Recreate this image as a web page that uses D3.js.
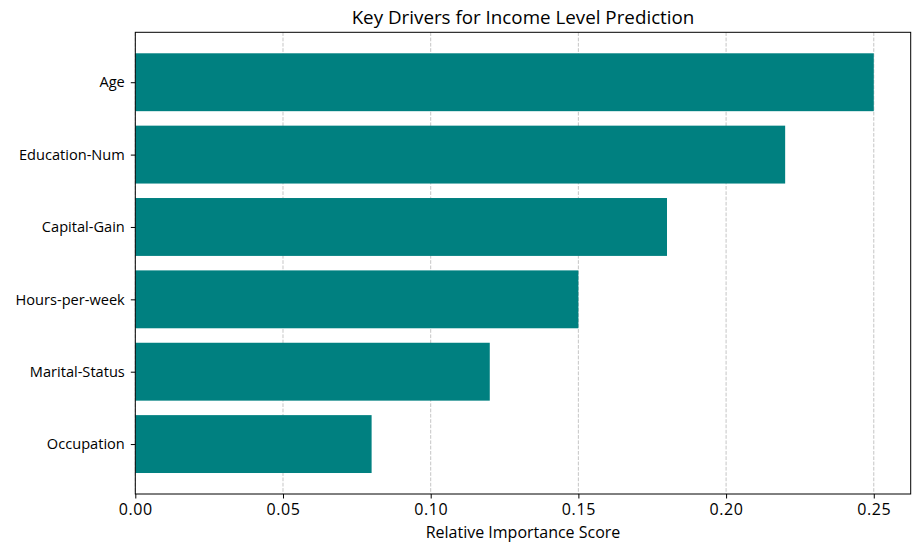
<!DOCTYPE html>
<html><head><meta charset="utf-8">
<script src="https://cdn.jsdelivr.net/npm/d3@7"></script>
<style>body{margin:0;background:#fff}svg{display:block}text{font-family:"Open Sans",sans-serif}</style>
</head><body><svg id="c" width="919" height="551"></svg>
<script>
const categories = ["Age","Education-Num","Capital-Gain","Hours-per-week","Marital-Status","Occupation"];
const values = [0.25,0.22,0.18,0.15,0.12,0.08];
const xTicks = [0,0.05,0.10,0.15,0.20,0.25];
const title = "Key Drivers for Income Level Prediction";
const xLabel = "Relative Importance Score";

const svg = d3.select("#c");
const L=135.3,R=910.7,T=32.3,B=494;
const n = categories.length;
const x = d3.scaleLinear().domain([0,0.2625]).range([L,R]);
const y = d3.scaleLinear().domain([-0.69, n-1+0.69]).range([B,T]);
const yi = i => n-1-i;

const g = svg.append("g");
g.selectAll(".grid").data(xTicks).enter().append("line")
 .attr("x1",d=>x(d)).attr("x2",d=>x(d)).attr("y1",T).attr("y2",B)
 .attr("stroke","#b0b0b0").attr("stroke-width",0.8).attr("stroke-dasharray","3.7,1.6").attr("opacity",0.9);
g.selectAll(".bar").data(values).enter().append("rect")
 .attr("x",x(0)).attr("width",d=>x(d)-x(0))
 .attr("y",(d,i)=>y(yi(i)+0.4)).attr("height",(d,i)=>y(yi(i)-0.4)-y(yi(i)+0.4))
 .attr("fill","#008080");
svg.append("rect").attr("x",L).attr("y",T).attr("width",R-L).attr("height",B-T)
 .attr("fill","none").attr("stroke","#000").attr("stroke-width",1);
const xa = svg.append("g").attr("transform",`translate(0,${B})`)
 .call(d3.axisBottom(x).tickValues(xTicks).tickFormat(d3.format(".2f")).tickSize(4.5).tickPadding(5));
xa.select(".domain").remove();
xa.selectAll("text").attr("font-size",16).attr("letter-spacing",0.6).attr("fill","#000");
const ya = svg.append("g").attr("transform",`translate(${L},0)`)
 .call(d3.axisLeft(d3.scaleOrdinal().domain(categories).range(categories.map((c,i)=>y(yi(i))))).tickSize(4.5).tickPadding(6));
ya.select(".domain").remove();
ya.selectAll("text").attr("font-size",14.6).attr("fill","#000");
svg.append("text").attr("x",(L+R)/2).attr("y",24).attr("text-anchor","middle")
 .attr("font-size",18.8).attr("fill","#000").text(title);
svg.append("text").attr("x",(L+R)/2).attr("y",538).attr("text-anchor","middle")
 .attr("font-size",16).attr("fill","#000").text(xLabel);
</script></body></html>
